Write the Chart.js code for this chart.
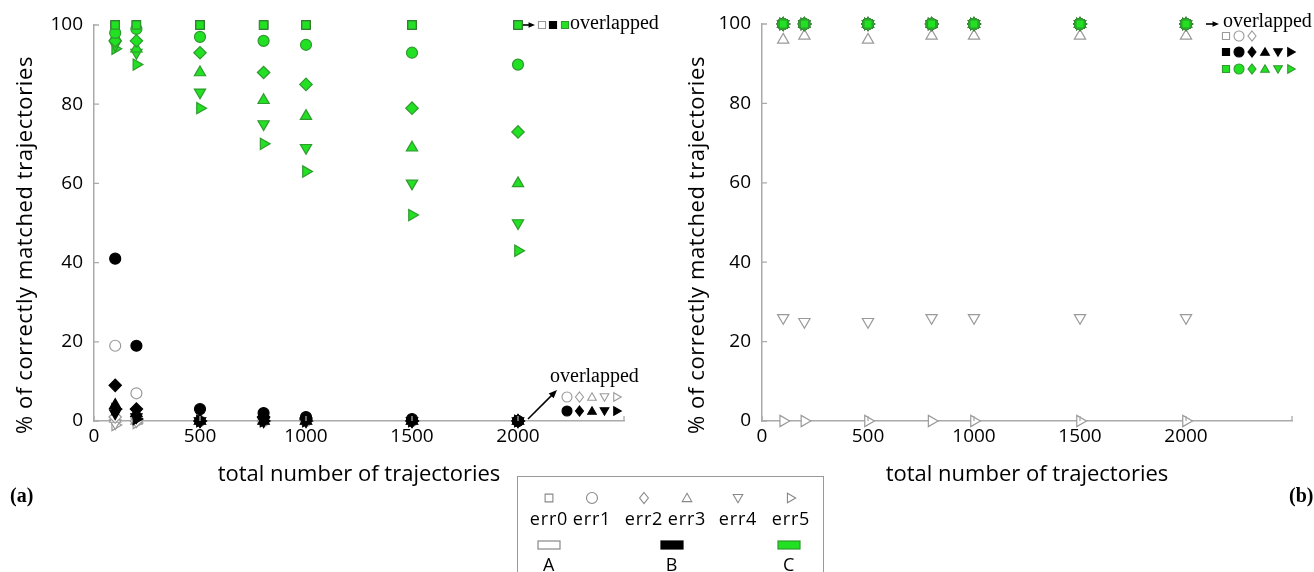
<!DOCTYPE html>
<html>
<head>
<meta charset="utf-8">
<script src="https://cdn.jsdelivr.net/npm/chart.js@4.4.0/dist/chart.umd.min.js"></script>
<style>
  body { margin: 0; width: 1314px; height: 572px; background: #fff; position: relative; overflow: hidden; font-family: 'Open Sans', sans-serif; color: #000; }
  .panel { position: absolute; top: 0; height: 490px; }
  #boxA { left: 0; width: 660px; }
  #boxB { left: 668px; width: 646px; }
  .ytitle { position: absolute; width: 420px; height: 24px; line-height: 24px; text-align: center; font-size: 22px; letter-spacing: 0.6px; transform: rotate(-90deg); white-space: nowrap; }
  .tag { position: absolute; top: 484px; font: bold 20px 'Liberation Serif', serif; }
  #legend { position: absolute; left: 517px; top: 476px; width: 305px; height: 110px; border: 1px solid #999; background: #fff; }
  #legend canvas { position: absolute; left: 0; top: 0; }
  .lbl { position: absolute; width: 60px; margin-left: -30px; text-align: center; font-size: 18px; letter-spacing: 0.8px; line-height: 20px; }
</style>
</head>
<body>
<div class="panel" id="boxA"><canvas id="chartA" width="660" height="490"></canvas></div>
<div class="panel" id="boxB"><canvas id="chartB" width="646" height="490"></canvas></div>
<div class="ytitle" style="left:-187px; top:233px;">% of correctly matched trajectories</div>
<div class="ytitle" style="left:485px; top:233px;">% of correctly matched trajectories</div>
<div class="tag" style="left:10px;">(a)</div>
<div class="tag" style="left:1289px;">(b)</div>
<div id="legend"><canvas id="legendCanvas" width="305" height="110"></canvas></div>

<script>
// x positions (total number of trajectories)
const xValues = [100, 200, 500, 800, 1000, 1500, 2000];
const errNames = ['err0', 'err1', 'err2', 'err3', 'err4', 'err5'];
const groupNames = ['A', 'B', 'C'];
const xTicks = [0, 500, 1000, 1500, 2000];
const yTicks = [0, 20, 40, 60, 80, 100];

// panel (a): one row per err0..err5
const leftA = [
  [100, 100, 100, 100, 100, 100, 100],
  [19, 7, 0, 0, 0, 0, 0],
  [1, 0, 0, 0, 0, 0, 0],
  [0.5, 0, 0, 0, 0, 0, 0],
  [-0.5, 0, 0, 0, 0, 0, 0],
  [-1, -0.5, 0, 0, 0, 0, 0]
];
const leftB = [
  [100, 100, 100, 100, 100, 100, 100],
  [41, 19, 3, 2, 1, 0.5, 0],
  [9, 3, 0, 1, 0.5, 0, 0],
  [4, 2, 0, 0, 0, 0, 0],
  [2, 1, 0, 0, 0, 0, 0],
  [3, 0.5, 0, 0, 0, 0, 0]
];
const leftC = [
  [100, 100, 100, 100, 100, 100, 100],
  [98, 99, 97, 96, 95, 93, 90],
  [96, 96, 93, 88, 85, 79, 73],
  [97, 94, 88, 81, 77, 69, 60],
  [95, 93, 83, 75, 69, 60, 50],
  [94, 90, 79, 70, 63, 52, 43]
];

// panel (b)
const rightA = [
  [100, 100, 100, 100, 100, 100, 100],
  [100, 100, 100, 100, 100, 100, 100],
  [100, 100, 100, 100, 100, 100, 100],
  [96, 97, 96, 97, 97, 97, 97],
  [26, 25, 25, 26, 26, 26, 26],
  [0, 0, 0, 0, 0, 0, 0]
];
const rightB = [
  [100, 100, 100, 100, 100, 100, 100],
  [100, 100, 100, 100, 100, 100, 100],
  [100, 100, 100, 100, 100, 100, 100],
  [100, 100, 100, 100, 100, 100, 100],
  [100, 100, 100, 100, 100, 100, 100],
  [100, 100, 100, 100, 100, 100, 100]
];
const rightC = [
  [100, 100, 100, 100, 100, 100, 100],
  [100, 100, 100, 100, 100, 100, 100],
  [100, 100, 100, 100, 100, 100, 100],
  [100, 100, 100, 100, 100, 100, 100],
  [100, 100, 100, 100, 100, 100, 100],
  [100, 100, 100, 100, 100, 100, 100]
];

// marker look for err0..err5
const errStyles = ['rect', 'circle', 'rectRot', 'triangle', 'triangle', 'triangle'];
const errRotations = [0, 0, 0, 0, 180, 90];
const errRadius = [5.8, 5.5, 6.2, 6.5, 6.5, 6.5];

const looks = {
  A: { fill: '#ffffff', edge: '#9a9a9a', order: 2 },
  B: { fill: '#000000', edge: '#000000', order: 1 },
  C: { fill: '#22e022', edge: '#2f9a2f', order: 0 }
};

function buildSets(rowsA, rowsB, rowsC) {
  var sets = [];
  var all = { A: rowsA, B: rowsB, C: rowsC };
  ['C', 'B', 'A'].forEach(function (g) {
    all[g].forEach(function (vals, i) {
      sets.push({
        label: g + ' ' + errNames[i],
        data: xValues.map(function (x, j) { return { x: x, y: vals[j] }; }),
        showLine: false,
        pointStyle: errStyles[i],
        pointRotation: errRotations[i],
        pointRadius: errRadius[i],
        pointHoverRadius: errRadius[i],
        pointBackgroundColor: looks[g].fill,
        pointBorderColor: looks[g].edge,
        pointBorderWidth: 1.2,
        clip: false,
        order: looks[g].order
      });
    });
  });
  return sets;
}

// small marker drawer for the annotations and legend
function drawMark(ctx, style, rot, x, y, r, fill, edge) {
  ctx.save();
  ctx.translate(x, y);
  ctx.rotate(rot * Math.PI / 180);
  ctx.beginPath();
  if (style === 'rect') {
    var s = r * Math.SQRT1_2;
    ctx.rect(-s, -s, 2 * s, 2 * s);
  } else if (style === 'circle') {
    ctx.arc(0, 0, r, 0, Math.PI * 2);
  } else if (style === 'rectRot') {
    ctx.moveTo(0, -r); ctx.lineTo(r * 0.8, 0); ctx.lineTo(0, r); ctx.lineTo(-r * 0.8, 0);
  } else {
    for (var k = 0; k < 3; k++) {
      var a = k * 2 * Math.PI / 3;
      var px = Math.sin(a) * r, py = -Math.cos(a) * r + r * 0.15;
      if (k === 0) ctx.moveTo(px, py); else ctx.lineTo(px, py);
    }
  }
  ctx.closePath();
  ctx.fillStyle = fill;
  ctx.fill();
  ctx.lineWidth = 1.1;
  ctx.strokeStyle = edge;
  ctx.stroke();
  ctx.restore();
}

function arrow(ctx, x1, y1, x2, y2, head) {
  var ang = Math.atan2(y2 - y1, x2 - x1);
  ctx.save();
  ctx.strokeStyle = '#000';
  ctx.fillStyle = '#000';
  ctx.lineWidth = 1.6;
  ctx.beginPath();
  ctx.moveTo(x1, y1);
  ctx.lineTo(x2 - Math.cos(ang) * head * 0.6, y2 - Math.sin(ang) * head * 0.6);
  ctx.stroke();
  ctx.beginPath();
  ctx.moveTo(x2, y2);
  ctx.lineTo(x2 - head * Math.cos(ang - 0.4), y2 - head * Math.sin(ang - 0.4));
  ctx.lineTo(x2 - head * Math.cos(ang + 0.4), y2 - head * Math.sin(ang + 0.4));
  ctx.closePath();
  ctx.fill();
  ctx.restore();
}

// inward tick marks on both axes
const innerTicks = {
  id: 'innerTicks',
  afterDraw: function (chart) {
    var ctx = chart.ctx, xs = chart.scales.x, ys = chart.scales.y;
    ctx.save();
    ctx.strokeStyle = '#aaa';
    ctx.lineWidth = 1.3;
    ctx.beginPath();
    xs.ticks.forEach(function (t) {
      var p = xs.getPixelForValue(t.value);
      ctx.moveTo(p, ys.bottom); ctx.lineTo(p, ys.bottom - 5);
    });
    ys.ticks.forEach(function (t) {
      var p = ys.getPixelForValue(t.value);
      ctx.moveTo(xs.left, p); ctx.lineTo(xs.left + 5, p);
    });
    ctx.stroke();
    ctx.restore();
  }
};

const notesA = {
  id: 'notesA',
  afterDatasetsDraw: function (chart) {
    var ctx = chart.ctx, xs = chart.scales.x, ys = chart.scales.y;
    var px = xs.getPixelForValue(2000), top = ys.getPixelForValue(100), bot = ys.getPixelForValue(0);
    // top: err0 of A, B and C overlap
    arrow(ctx, px + 5, top, px + 17, top, 7);
    drawMark(ctx, 'rect', 0, px + 24, top, 5, '#fff', '#9a9a9a');
    drawMark(ctx, 'rect', 0, px + 35, top, 5, '#000', '#000');
    drawMark(ctx, 'rect', 0, px + 47, top, 5, looks.C.fill, looks.C.edge);
    ctx.save();
    ctx.font = '20px "Liberation Serif", serif';
    ctx.fillStyle = '#000';
    ctx.textBaseline = 'middle';
    ctx.fillText('overlapped', px + 52, top - 1);
    // bottom: err1..err5 of A and B overlap at 0
    ctx.fillText('overlapped', px + 32, bot - 44);
    ctx.restore();
    arrow(ctx, px + 10, bot - 2, px + 39, bot - 31, 9);
    for (var i = 1; i < 6; i++) {
      var cx = px + 49 + (i - 1) * 12.5;
      drawMark(ctx, errStyles[i], errRotations[i], cx, bot - 24, 5, '#fff', '#9a9a9a');
      drawMark(ctx, errStyles[i], errRotations[i], cx, bot - 10, 5, '#000', '#000');
    }
  }
};

const notesB = {
  id: 'notesB',
  afterDatasetsDraw: function (chart) {
    var ctx = chart.ctx, xs = chart.scales.x, ys = chart.scales.y;
    var px = xs.getPixelForValue(2000), top = ys.getPixelForValue(100);
    arrow(ctx, px + 20, top, px + 33, top, 7);
    ctx.save();
    ctx.font = '20px "Liberation Serif", serif';
    ctx.fillStyle = '#000';
    ctx.textBaseline = 'middle';
    ctx.fillText('overlapped', px + 37, top - 2);
    ctx.restore();
    for (var i = 0; i < 6; i++) {
      var cx = px + 40 + i * 13;
      if (i < 3) drawMark(ctx, errStyles[i], errRotations[i], cx, top + 12, 5, '#fff', '#9a9a9a');
      drawMark(ctx, errStyles[i], errRotations[i], cx, top + 28, 5, '#000', '#000');
      drawMark(ctx, errStyles[i], errRotations[i], cx, top + 45, 5, looks.C.fill, looks.C.edge);
    }
  }
};

function makeConfig(sets, padRight, padTop, note) {
  return {
    type: 'scatter',
    data: { datasets: sets },
    options: {
      responsive: false,
      animation: false,
      devicePixelRatio: 1,
      layout: { padding: { top: padTop, right: padRight, left: 0, bottom: 0 } },
      plugins: { legend: { display: false }, tooltip: { enabled: false } },
      scales: {
        x: {
          type: 'linear', min: 0, max: 2500,
          afterBuildTicks: function (s) { s.ticks = xTicks.concat([2500]).map(function (v) { return { value: v }; }); },
          ticks: {
            font: { family: 'Open Sans', size: 19 }, color: '#000', padding: 4, maxRotation: 0,
            callback: function (v) { return xTicks.indexOf(v) >= 0 ? String(v) : ''; }
          },
          grid: { drawOnChartArea: false, drawTicks: false },
          border: { color: '#aaa', width: 1.5 },
          title: { display: true, text: 'total number of trajectories', font: { family: 'Open Sans', size: 22 }, color: '#000', padding: { top: 0, bottom: 2 } },
          afterFit: function (s) { s.height = 69; }
        },
        y: {
          min: 0, max: 100,
          afterBuildTicks: function (s) { s.ticks = yTicks.map(function (v) { return { value: v }; }); },
          ticks: { font: { family: 'Open Sans', size: 19 }, color: '#000', padding: 11 },
          grid: { drawOnChartArea: false, drawTicks: false },
          border: { color: '#aaa', width: 1.5 },
          afterFit: function (s) { s.width = 94; }
        }
      }
    },
    plugins: [innerTicks, note]
  };
}

new Chart(document.getElementById('chartA'), makeConfig(buildSets(leftA, leftB, leftC), 36, 25, notesA));
new Chart(document.getElementById('chartB'), makeConfig(buildSets(rightA, rightB, rightC), 22, 24, notesB));

// legend: symbols and swatches on a small canvas, words as html
(function () {
  var lg = document.getElementById('legend');
  var ctx = document.getElementById('legendCanvas').getContext('2d');
  var symX = [31, 74, 126, 169, 220, 273];
  errNames.forEach(function (name, i) {
    drawMark(ctx, errStyles[i], errRotations[i], symX[i], 21, 5.5, '#fff', '#888');
    var d = document.createElement('div');
    d.className = 'lbl';
    d.style.left = symX[i] + 'px';
    d.style.top = '31px';
    d.textContent = name;
    lg.appendChild(d);
  });
  var swX = [31, 154, 271];
  groupNames.forEach(function (g, i) {
    ctx.fillStyle = looks[g].fill;
    ctx.strokeStyle = g === 'A' ? '#888' : looks[g].edge;
    ctx.lineWidth = 1.2;
    ctx.fillRect(swX[i] - 11, 64, 22, 8);
    ctx.strokeRect(swX[i] - 11, 64, 22, 8);
    var d = document.createElement('div');
    d.className = 'lbl';
    d.style.left = swX[i] + 'px';
    d.style.top = '77px';
    d.textContent = g;
    lg.appendChild(d);
  });
})();
</script>
</body>
</html>
